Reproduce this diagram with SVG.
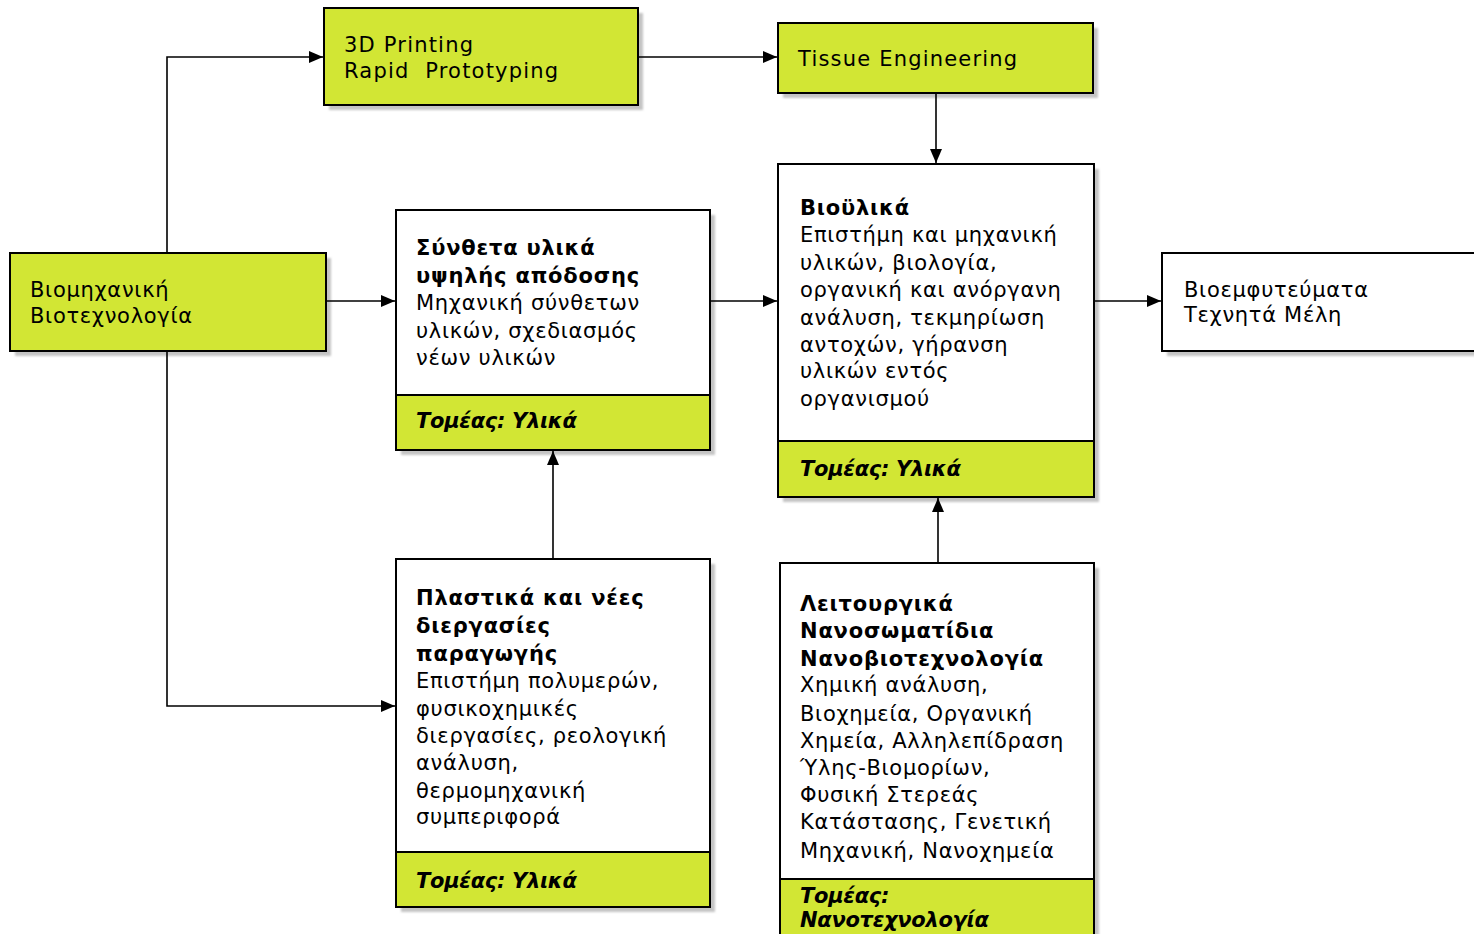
<svg xmlns="http://www.w3.org/2000/svg" width="1474" height="934" viewBox="0 0 1474 934">
  <style>
    .box { stroke: #000; stroke-width: 2; }
    .green { fill: #d2e634; }
    .white { fill: #fff; }
    .shadow { fill: #c4c4c4; filter: url(#soft); }
    .t { font-family: "DejaVu Sans", Verdana, sans-serif; font-size: 21px; letter-spacing: 0.7px; fill: #000; }
    .lat { letter-spacing: 1.2px; }
    .b { font-weight: bold; letter-spacing: 0.8px; }
    .bi { font-weight: bold; font-style: italic; letter-spacing: -0.3px; }
    .wire { fill: none; stroke: #000; stroke-width: 1.6; }
  </style>
  <defs>
    <filter id="soft" x="-5%" y="-5%" width="110%" height="110%">
      <feGaussianBlur stdDeviation="1.2"/>
    </filter>
    <marker id="arrow" viewBox="0 0 14 12" refX="14" refY="6" markerWidth="14" markerHeight="12" markerUnits="userSpaceOnUse" orient="auto">
      <path d="M0,0 L14,6 L0,12 Z" fill="#000"/>
    </marker>
  </defs>

  <!-- Βιομηχανική Βιοτεχνολογία -->
  <g id="biomech">
    <rect class="shadow" x="15" y="258" width="316" height="98"/>
    <rect class="box green" x="10" y="253" width="316" height="98"/>
    <text class="t" x="30" y="297">Βιομηχανική</text>
    <text class="t" x="30" y="323">Βιοτεχνολογία</text>
  </g>

  <!-- 3D Printing -->
  <g id="printing">
    <rect class="shadow" x="329" y="13" width="314" height="97"/>
    <rect class="box green" x="324" y="8" width="314" height="97"/>
    <text class="t lat" x="344" y="52">3D Printing</text>
    <text class="t lat" x="344" y="78" xml:space="preserve">Rapid  Prototyping</text>
  </g>

  <!-- Tissue Engineering -->
  <g id="tissue">
    <rect class="shadow" x="783" y="28" width="315" height="70"/>
    <rect class="box green" x="778" y="23" width="315" height="70"/>
    <text class="t lat" x="798" y="66">Tissue Engineering</text>
  </g>

  <!-- Σύνθετα υλικά -->
  <g id="composites">
    <rect class="shadow" x="401" y="215" width="314" height="240"/>
    <rect class="box white" x="396" y="210" width="314" height="240"/>
    <rect class="box green" x="396" y="395" width="314" height="55"/>
    <text class="t b" x="416" y="255">Σύνθετα υλικά</text>
    <text class="t b" x="416" y="283">υψηλής απόδοσης</text>
    <text class="t" x="416" y="310">Μηχανική σύνθετων</text>
    <text class="t" x="416" y="338">υλικών, σχεδιασμός</text>
    <text class="t" x="416" y="365">νέων υλικών</text>
    <text class="t bi" x="416" y="428">Τομέας: Υλικά</text>
  </g>

  <!-- Βιοϋλικά -->
  <g id="biomaterials">
    <rect class="shadow" x="783" y="169" width="316" height="333"/>
    <rect class="box white" x="778" y="164" width="316" height="333"/>
    <rect class="box green" x="778" y="441" width="316" height="56"/>
    <text class="t b" x="800" y="215">Βιοϋλικά</text>
    <text class="t" x="800" y="242">Επιστήμη και μηχανική</text>
    <text class="t" x="800" y="270">υλικών, βιολογία,</text>
    <text class="t" x="800" y="297">οργανική και ανόργανη</text>
    <text class="t" x="800" y="325">ανάλυση, τεκμηρίωση</text>
    <text class="t" x="800" y="352">αντοχών, γήρανση</text>
    <text class="t" x="800" y="378">υλικών εντός</text>
    <text class="t" x="800" y="406">οργανισμού</text>
    <text class="t bi" x="800" y="476">Τομέας: Υλικά</text>
  </g>

  <!-- Βιοεμφυτεύματα -->
  <g id="implants">
    <rect class="shadow" x="1167" y="258" width="320" height="98"/>
    <rect class="box white" x="1162" y="253" width="320" height="98"/>
    <text class="t" x="1184" y="297">Βιοεμφυτεύματα</text>
    <text class="t" x="1184" y="322">Τεχνητά Μέλη</text>
  </g>

  <!-- Πλαστικά -->
  <g id="plastics">
    <rect class="shadow" x="401" y="564" width="314" height="348"/>
    <rect class="box white" x="396" y="559" width="314" height="348"/>
    <rect class="box green" x="396" y="852" width="314" height="55"/>
    <text class="t b" x="416" y="605">Πλαστικά και νέες</text>
    <text class="t b" x="416" y="633">διεργασίες</text>
    <text class="t b" x="416" y="661">παραγωγής</text>
    <text class="t" x="416" y="688">Επιστήμη πολυμερών,</text>
    <text class="t" x="416" y="716">φυσικοχημικές</text>
    <text class="t" x="416" y="743">διεργασίες, ρεολογική</text>
    <text class="t" x="416" y="770">ανάλυση,</text>
    <text class="t" x="416" y="798">θερμομηχανική</text>
    <text class="t" x="416" y="824">συμπεριφορά</text>
    <text class="t bi" x="416" y="888">Τομέας: Υλικά</text>
  </g>

  <!-- Λειτουργικά Νανοσωματίδια -->
  <g id="nano">
    <rect class="shadow" x="785" y="568" width="314" height="380"/>
    <rect class="box white" x="780" y="563" width="314" height="380"/>
    <rect class="box green" x="780" y="879" width="314" height="64"/>
    <text class="t b" x="800" y="611">Λειτουργικά</text>
    <text class="t b" x="800" y="638">Νανοσωματίδια</text>
    <text class="t b" x="800" y="666">Νανοβιοτεχνολογία</text>
    <text class="t" x="800" y="692">Χημική ανάλυση,</text>
    <text class="t" x="800" y="721">Βιοχημεία, Οργανική</text>
    <text class="t" x="800" y="748">Χημεία, Αλληλεπίδραση</text>
    <text class="t" x="800" y="775">Ύλης-Βιομορίων,</text>
    <text class="t" x="800" y="802">Φυσική Στερεάς</text>
    <text class="t" x="800" y="829">Κατάστασης, Γενετική</text>
    <text class="t" x="800" y="858">Μηχανική, Νανοχημεία</text>
    <text class="t bi" x="800" y="903">Τομέας:</text>
    <text class="t bi" x="800" y="927">Νανοτεχνολογία</text>
  </g>

  <!-- connectors, drawn last so they meet the box edges above the shadows -->
  <g id="connectors">
    <path class="wire" d="M167,252 V57 H323" marker-end="url(#arrow)"/>
    <path class="wire" d="M167,352 V706 H395" marker-end="url(#arrow)"/>
    <path class="wire" d="M327,301 H395" marker-end="url(#arrow)"/>
    <path class="wire" d="M639,57 H777" marker-end="url(#arrow)"/>
    <path class="wire" d="M936,94 V163" marker-end="url(#arrow)"/>
    <path class="wire" d="M711,301 H777" marker-end="url(#arrow)"/>
    <path class="wire" d="M1095,301 H1161" marker-end="url(#arrow)"/>
    <path class="wire" d="M553,558 V451" marker-end="url(#arrow)"/>
    <path class="wire" d="M938,562 V498" marker-end="url(#arrow)"/>
  </g>
</svg>
